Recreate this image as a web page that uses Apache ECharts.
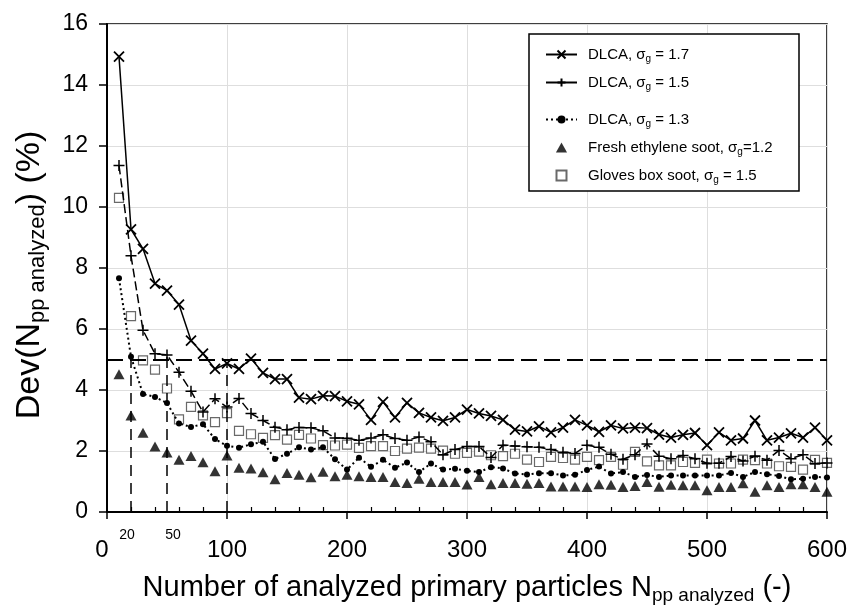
<!DOCTYPE html>
<html>
<head>
<meta charset="utf-8">
<script src="https://cdn.jsdelivr.net/npm/echarts@6/dist/echarts.min.js"></script>
<style>html,body{margin:0;padding:0;background:#fff}#c{width:853px;height:608px}</style>
</head>
<body>
<div id="c"></div>
<script>
// ---- data ----
const nAnalyzed = [10,20,30,40,50,60,70,80,90,100,110,120,130,140,150,160,170,180,190,200,
  210,220,230,240,250,260,270,280,290,300,310,320,330,340,350,360,370,380,390,400,
  410,420,430,440,450,460,470,480,490,500,510,520,530,540,550,560,570,580,590,600];
const dlca17 = [14.93,9.27,8.63,7.49,7.26,6.80,5.62,5.19,4.69,4.87,
  4.69,5.03,4.56,4.36,4.36,3.75,3.70,3.81,3.80,3.63,
  3.53,3.02,3.61,3.10,3.58,3.25,3.10,2.99,3.10,3.36,
  3.23,3.15,3.02,2.70,2.64,2.81,2.61,2.77,3.02,2.84,
  2.63,2.84,2.74,2.77,2.75,2.54,2.44,2.53,2.59,2.19,
  2.61,2.35,2.41,3.00,2.35,2.44,2.58,2.44,2.77,2.35];
const dlca15 = [11.36,8.40,5.96,5.19,5.15,4.58,3.96,3.28,3.71,3.44,
  3.72,3.23,3.00,2.78,2.70,2.77,2.76,2.66,2.43,2.42,
  2.35,2.43,2.53,2.41,2.35,2.46,2.30,1.88,2.05,2.15,
  2.15,1.79,2.19,2.16,2.14,2.12,2.05,1.96,1.92,2.19,
  2.12,1.89,1.73,1.88,2.23,1.83,1.75,1.85,1.75,1.60,
  1.60,1.82,1.67,1.83,1.70,2.02,1.75,1.88,1.59,1.61];
const dlca13 = [7.66,5.09,3.87,3.77,3.57,2.90,2.79,2.88,2.39,2.17,
  2.11,2.22,2.30,1.74,1.91,2.12,2.05,2.12,1.73,1.39,
  1.78,1.48,1.71,1.45,1.62,1.31,1.59,1.39,1.42,1.35,
  1.31,1.47,1.43,1.26,1.23,1.27,1.27,1.20,1.22,1.38,
  1.49,1.26,1.31,1.15,1.21,1.15,1.20,1.20,1.20,1.20,
  1.20,1.28,1.15,1.31,1.24,1.18,1.07,1.09,1.15,1.13];
const freshEthylene = [4.52,3.16,2.60,2.15,1.95,1.71,1.84,1.63,1.34,1.85,
  1.45,1.43,1.30,1.07,1.28,1.22,1.14,1.32,1.17,1.22,
  1.17,1.15,1.15,0.98,0.95,1.09,0.98,0.98,0.98,0.90,
  1.15,0.91,0.95,0.95,0.93,0.95,0.84,0.84,0.84,0.82,
  0.91,0.89,0.82,0.85,0.98,0.83,0.89,0.88,0.88,0.71,
  0.82,0.82,0.94,0.66,0.88,0.82,0.91,0.91,0.82,0.66];
const glovesBox = [10.30,6.42,4.97,4.67,4.05,3.04,3.45,3.17,2.95,3.24,
  2.66,2.55,2.43,2.52,2.37,2.53,2.41,2.19,2.18,2.21,
  2.10,2.16,2.16,2.00,2.08,2.11,2.08,2.01,1.91,1.94,
  1.98,1.86,1.83,1.91,1.72,1.64,1.81,1.77,1.72,1.81,
  1.70,1.81,1.55,1.97,1.66,1.53,1.53,1.64,1.61,1.72,
  1.59,1.59,1.72,1.70,1.59,1.50,1.48,1.39,1.71,1.61];
const seriesNames = ['DLCA, σg = 1.7','DLCA, σg = 1.5','DLCA, σg = 1.3',
  'Fresh ethylene soot, σg=1.2','Gloves box soot, σg = 1.5'];
const xTickValues = [0,100,200,300,400,500,600];
const xLabelValues = [0,20,50,100,200,300,400,500,600];
const refLevel = 5;
const refMarks = [[20,5],[50,5.15],[100,4.87]];

// ---- chart ----
const FONT = 'Liberation Sans, Arial, sans-serif';
const pair = (ys) => nAnalyzed.map((x, i) => [x, ys[i]]);
const SYM_X = 'path://M0,0L10,10M10,0L0,10';
const SYM_PLUS = 'path://M5,0L5,10M0,5L10,5';
const SYM_TRI = 'path://M5,0L10,9L0,9Z';
const SYM_SQ = 'path://M0,0L10,0L10,10L0,10Z';

const legendRich = {
  t: {fontSize: 15, fontFamily: FONT, color: '#000'},
  s: {fontSize: 10, fontFamily: FONT, color: '#000', padding: [9, 0, 0, 0]}
};
function legendFmt(name) {
  const i = name.indexOf('σg');
  return '{t|' + name.slice(0, i) + 'σ}{s|g}{t|' + name.slice(i + 2) + '}';
}
const legendBase = {
  orient: 'vertical', left: 545, padding: 0, itemWidth: 31, itemHeight: 10,
  formatter: legendFmt, textStyle: {rich: legendRich, padding: [0, 0, 0, 6]},
  selectedMode: false, z: 10
};

const chart = echarts.init(document.getElementById('c'), null, {renderer: 'canvas'});
chart.setOption({
  animation: false,
  backgroundColor: '#fff',
  grid: {left: 107, right: 26, top: 24, bottom: 96, outerBoundsMode: 'none', containLabel: false,
    show: true, borderColor: '#000', borderWidth: 1.5, backgroundColor: 'transparent'},
  graphic: [{type: 'rect', z: 5, shape: {x: 529, y: 34, width: 270, height: 157},
    style: {fill: '#fff', stroke: '#000', lineWidth: 1.5}}],
  legend: [
    Object.assign({}, legendBase, {top: 47, itemGap: 11, data: [seriesNames[0], {name: seriesNames[1], lineStyle: {type: 'solid'}}]}),
    Object.assign({}, legendBase, {top: 112, itemGap: 11, data: [seriesNames[2], seriesNames[3], seriesNames[4]]})
  ],
  xAxis: {
    type: 'value', min: 0, max: 600, interval: 100,
    axisLine: {show: true, onZero: false, lineStyle: {color: '#000', width: 2}},
    axisTick: {show: true, customValues: xTickValues, length: 7, lineStyle: {color: '#000', width: 1.5}},
    minorTick: {show: true, splitNumber: 5, length: -5, lineStyle: {color: '#000', width: 1.2}},
    splitLine: {show: true, lineStyle: {color: '#dedede', width: 1}},
    axisLabel: {
      customValues: xLabelValues, margin: 16, color: '#000',
      formatter: (v) => v === 20 || v === 50 ? '{s' + v + '|' + v + '}' : (v === 0 ? '{z|0}' : '{b|' + v + '}'),
      rich: {
        b: {fontSize: 24, fontFamily: FONT, color: '#000', padding: [10, 0, 0, 0]},
        z: {fontSize: 24, fontFamily: FONT, color: '#000', padding: [10, 10, 0, 0]},
        s20: {fontSize: 14, fontFamily: FONT, color: '#000', padding: [0, 8, 0, 0]},
        s50: {fontSize: 14, fontFamily: FONT, color: '#000', padding: [0, 0, 0, 12]}
      }
    },
    name: '{a|Number of analyzed primary particles N}{s|pp analyzed}{a| (-)}',
    nameLocation: 'middle', nameGap: 59,
    nameTextStyle: {rich: {
      a: {fontSize: 29, fontFamily: FONT, color: '#000'},
      s: {fontSize: 19, fontFamily: FONT, color: '#000', padding: [15, 0, 0, 0]}
    }}
  },
  yAxis: {
    type: 'value', min: 0, max: 16, interval: 2,
    axisLine: {show: true, lineStyle: {color: '#000', width: 2}},
    axisTick: {show: true, length: 8, lineStyle: {color: '#000', width: 1.5}},
    splitLine: {show: true, lineStyle: {color: '#dedede', width: 1}},
    axisLabel: {fontSize: 23, fontFamily: FONT, color: '#000', margin: 19},
    name: '{a|Dev(N}{s|pp analyzed}{e|) (%)}',
    nameLocation: 'middle', nameGap: 58, nameRotate: 90,
    nameTextStyle: {rich: {
      a: {fontSize: 34, fontFamily: FONT, color: '#000'},
      e: {fontSize: 34, fontFamily: FONT, color: '#000', padding: [0, 14, 0, 0]},
      s: {fontSize: 22, fontFamily: FONT, color: '#000', padding: [17, 0, 0, 0]}
    }}
  },
  series: [
    {
      name: seriesNames[0], type: 'line', data: pair(dlca17), z: 6,
      symbol: SYM_X, symbolSize: 10,
      itemStyle: {color: '#000', borderColor: '#000', borderWidth: 1.8},
      lineStyle: {color: '#000', width: 1.5},
      markLine: {
        silent: true, symbol: 'none', label: {show: false},
        lineStyle: {color: '#000', type: [16, 7], width: 2},
        data: [
          {yAxis: refLevel},
          ...refMarks.map(([x, y]) => [{coord: [x, 0], lineStyle: {type: [11, 7], width: 1.5}}, {coord: [x, y]}])
        ]
      }
    },
    {
      name: seriesNames[1], type: 'line', data: pair(dlca15), z: 5,
      symbol: SYM_PLUS, symbolSize: 11,
      itemStyle: {color: '#000', borderColor: '#000', borderWidth: 1.5},
      lineStyle: {color: '#000', width: 1.5, type: [9, 4]}
    },
    {
      name: seriesNames[2], type: 'line', data: pair(dlca13), z: 4,
      symbol: 'circle', symbolSize: 6,
      itemStyle: {color: '#000'},
      lineStyle: {color: '#000', width: 2, type: [2, 3]}
    },
    {
      name: seriesNames[3], type: 'scatter', data: pair(freshEthylene), z: 3,
      symbol: SYM_TRI, symbolSize: [11, 10],
      itemStyle: {color: '#000'}
    },
    {
      name: seriesNames[4], type: 'scatter', data: pair(glovesBox), z: 3,
      symbol: SYM_SQ, symbolSize: 9,
      itemStyle: {color: '#fff', borderColor: '#444', borderWidth: 1.2}
    }
  ]
});
</script>
</body>
</html>
